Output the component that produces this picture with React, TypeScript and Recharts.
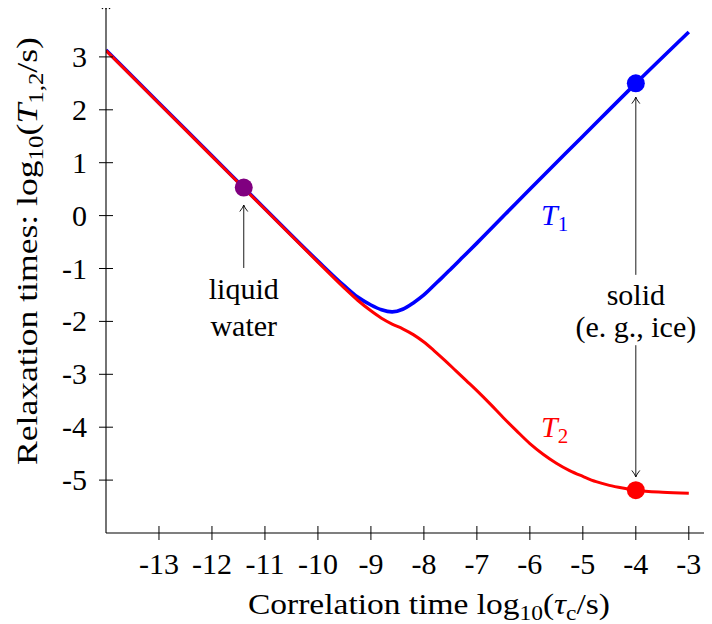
import React from 'react';
import { ComposedChart, Line, Scatter, XAxis, YAxis, ReferenceLine, Label } from 'recharts';

const FONT = 'Liberation Serif';
const SIZE = 30;
const SUB = 21;

const xTicks = [-13, -12, -11, -10, -9, -8, -7, -6, -5, -4, -3];
const yTicks = [-5, -4, -3, -2, -1, 0, 1, 2, 3];

// log10(T1) vs log10(tau_c)
const t1Points = [
  { x: -14, y: 3.13 },
  { x: -13, y: 2.13 },
  { x: -12, y: 1.13 },
  { x: -11, y: 0.13 },
  { x: -10, y: -0.86 },
  { x: -9.5, y: -1.33 },
  { x: -9.25, y: -1.54 },
  { x: -9, y: -1.69 },
  { x: -8.8, y: -1.78 },
  { x: -8.6, y: -1.82 },
  { x: -8.4, y: -1.77 },
  { x: -8.2, y: -1.65 },
  { x: -8, y: -1.5 },
  { x: -7.75, y: -1.26 },
  { x: -7.5, y: -1.02 },
  { x: -7.25, y: -0.77 },
  { x: -7, y: -0.52 },
  { x: -6, y: 0.5 },
  { x: -5, y: 1.5 },
  { x: -4, y: 2.5 },
  { x: -3, y: 3.47 },
];

// log10(T2)
const t2Points = [
  { x: -14, y: 3.12 },
  { x: -13, y: 2.12 },
  { x: -12, y: 1.12 },
  { x: -11, y: 0.12 },
  { x: -10, y: -0.88 },
  { x: -9.5, y: -1.37 },
  { x: -9.25, y: -1.6 },
  { x: -9, y: -1.8 },
  { x: -8.8, y: -1.94 },
  { x: -8.6, y: -2.05 },
  { x: -8.4, y: -2.14 },
  { x: -8.2, y: -2.25 },
  { x: -8, y: -2.39 },
  { x: -7.8, y: -2.56 },
  { x: -7.6, y: -2.74 },
  { x: -7.4, y: -2.93 },
  { x: -7.2, y: -3.12 },
  { x: -7, y: -3.31 },
  { x: -6.75, y: -3.56 },
  { x: -6.5, y: -3.82 },
  { x: -6.25, y: -4.07 },
  { x: -6, y: -4.31 },
  { x: -5.75, y: -4.51 },
  { x: -5.5, y: -4.68 },
  { x: -5.25, y: -4.82 },
  { x: -5, y: -4.93 },
  { x: -4.75, y: -5.03 },
  { x: -4.5, y: -5.1 },
  { x: -4.25, y: -5.15 },
  { x: -4, y: -5.19 },
  { x: -3.5, y: -5.23 },
  { x: -3, y: -5.25 },
];

const markers = [
  { x: -11.4, y: 0.53, color: '#800080' },
  { x: -4, y: 2.5, color: '#0000ff' },
  { x: -4, y: -5.19, color: '#ff0000' },
];

const arrows = [
  { x1: -11.4, y1: -0.99, x2: -11.4, y2: 0.2 },
  { x1: -4, y1: -1.12, x2: -4, y2: 2.24 },
  { x1: -4, y1: -2.45, x2: -4, y2: -4.94 },
];

const notes = [
  { x: -11.4, y: -1.58, lines: ['liquid', 'water'] },
  { x: -4, y: -1.69, lines: ['solid', '(e. g., ice)'] },
];
const noteGap = [37, 32];

const curveLabels = [
  { x: -5.79, y: -0.18, sub: '1', color: '#0000ff' },
  { x: -5.79, y: -4.19, sub: '2', color: '#ff0000' },
];

const headPath = (x: number, y: number, dx: number, dy: number) => {
  const len = 6.5;
  const half = 4;
  const bx = x - dx * len;
  const by = y - dy * len;
  const px = -dy;
  const py = dx;
  const mx = x - dx * 2.5;
  const my = y - dy * 2.5;
  return `M${bx + px * half},${by + py * half} Q${mx + px * 0.8},${my + py * 0.8} ${x},${y} Q${mx - px * 0.8},${my - py * 0.8} ${bx - px * half},${by - py * half}`;
};

const ArrowShape = (p: any) => {
  const { x1, y1, x2, y2 } = p;
  const l = Math.hypot(x2 - x1, y2 - y1) || 1;
  const dx = (x2 - x1) / l;
  const dy = (y2 - y1) / l;
  return (
    <g>
      <line x1={x1} y1={y1} x2={x2} y2={y2} stroke="#000" strokeWidth={0.9} />
      <path d={headPath(x2, y2, dx, dy)} fill="none" stroke="#000" strokeWidth={0.9} />
    </g>
  );
};

const AxisHead = (p: any) => {
  const { x1, y1, x2, y2 } = p;
  const l = Math.hypot(x2 - x1, y2 - y1) || 1;
  const dx = (x2 - x1) / l;
  const dy = (y2 - y1) / l;
  const tx = x2 + dx * 1.5;
  const ty = y2 + dy * 1.5;
  return (
    <g>
      <line x1={x1} y1={y1} x2={tx} y2={ty} stroke="#000" strokeWidth={1.1} />
      <path d={headPath(tx, ty, dx, dy)} fill="none" stroke="#000" strokeWidth={1.1} />
    </g>
  );
};

const XTick = (p: any) => {
  const { x, y, payload } = p;
  return (
    <g>
      <line x1={x} x2={x} y1={y - 7} y2={y + 7} stroke="#000" strokeWidth={1} />
      <text x={x} y={y + 41} textAnchor="middle" fontFamily={FONT} fontSize={SIZE}>
        {String(payload.value)}
      </text>
    </g>
  );
};

const YTick = (p: any) => {
  const { x, y, payload } = p;
  return (
    <g>
      <line x1={x - 7} x2={x + 7} y1={y} y2={y} stroke="#000" strokeWidth={1} />
      <text x={x - 19} y={y + 10} textAnchor="end" fontFamily={FONT} fontSize={SIZE}>
        {String(payload.value)}
      </text>
    </g>
  );
};

const XTitle = (p: any) => {
  const vb = p.viewBox || { x: 106, y: 533, width: 604, height: 91 };
  return (
    <text
      x={vb.x + 142}
      y={vb.y + 81}
      textLength={362}
      lengthAdjust="spacingAndGlyphs"
      fontFamily={FONT}
      fontSize={SIZE}
    >
      Correlation time log
      <tspan fontSize={SUB} dy={6}>10</tspan>
      <tspan dy={-6}>(</tspan>
      <tspan fontStyle="italic">τ</tspan>
      <tspan fontSize={SUB} dy={6}>c</tspan>
      <tspan dy={-6}>/s)</tspan>
    </text>
  );
};

const YTitle = () => {
  const bx = 37;
  const sy = 465;
  return (
    <text
      x={bx}
      y={sy}
      transform={`rotate(-90, ${bx}, ${sy})`}
      textLength={428}
      lengthAdjust="spacingAndGlyphs"
      fontFamily={FONT}
      fontSize={SIZE}
    >
      Relaxation times: log
      <tspan fontSize={SUB} dy={6}>10</tspan>
      <tspan dy={-6}>(</tspan>
      <tspan fontStyle="italic">T</tspan>
      <tspan fontSize={SUB} dy={6}>1,2</tspan>
      <tspan dy={-6}>/s)</tspan>
    </text>
  );
};

const Dot = (p: any) => <circle cx={p.cx} cy={p.cy} r={9} fill={p.payload.color} />;

const Note = (p: any) => {
  const gap = noteGap[p.index] ?? 35;
  return (
    <text x={p.cx} y={p.cy} textAnchor="middle" fontFamily={FONT} fontSize={SIZE}>
      {p.payload.lines.map((s: string, i: number) => (
        <tspan key={i} x={p.cx} dy={i === 0 ? 0 : gap}>
          {s}
        </tspan>
      ))}
    </text>
  );
};

const CurveLabel = (p: any) => (
  <text x={p.cx} y={p.cy} fontFamily={FONT} fontSize={SIZE} fill={p.payload.color}>
    <tspan fontStyle="italic">T</tspan>
    <tspan fontSize={SUB} dy={6}>{p.payload.sub}</tspan>
  </text>
);

const App = () => {
  return (
    <div style={{ marginLeft: -8, marginTop: -8 }}>
      <style>{`svg text, svg tspan { font-family: "Liberation Serif", "Times New Roman", serif !important; }`}</style>
      <svg width={1} height={1} style={{ position: 'absolute', left: 0, top: 0, overflow: 'hidden' }}>
        <text x={0} y={1} fontFamily={FONT} fontSize={1} fill="#fff">
          Aa
        </text>
      </svg>
      <ComposedChart width={712} height={624} margin={{ top: 4, right: 2, bottom: 0, left: 0 }}>
        <XAxis
          type="number"
          dataKey="x"
          domain={[-14, -2.6]}
          ticks={xTicks}
          interval={0}
          allowDataOverflow
          height={91}
          tickSize={0}
          tickMargin={0}
          tickLine={false}
          axisLine={{ stroke: '#000', strokeWidth: 1.1 }}
          tick={<XTick />}
        >
          <Label content={<XTitle />} />
        </XAxis>
        <YAxis
          type="number"
          dataKey="y"
          domain={[-6, 4]}
          ticks={yTicks}
          interval={0}
          allowDataOverflow
          width={106}
          tickSize={0}
          tickMargin={0}
          tickLine={false}
          axisLine={{ stroke: '#000', strokeWidth: 1.1 }}
          tick={<YTick />}
        >
          <Label content={<YTitle />} />
        </YAxis>
        <ReferenceLine segment={[{ x: -14, y: 3.9 }, { x: -14, y: 4 }]} shape={AxisHead} ifOverflow="visible" />
        <ReferenceLine segment={[{ x: -2.7, y: -6 }, { x: -2.6, y: -6 }]} shape={AxisHead} ifOverflow="visible" />
        {arrows.map((a, i) => (
          <ReferenceLine
            key={i}
            segment={[{ x: a.x1, y: a.y1 }, { x: a.x2, y: a.y2 }]}
            shape={ArrowShape}
            ifOverflow="visible"
          />
        ))}
        <Line
          data={t1Points}
          dataKey="y"
          type="monotone"
          stroke="#0000ff"
          strokeWidth={3.6}
          dot={false}
          isAnimationActive={false}
        />
        <Line
          data={t2Points}
          dataKey="y"
          type="monotone"
          stroke="#ff0000"
          strokeWidth={3}
          dot={false}
          isAnimationActive={false}
        />
        <Scatter data={markers} shape={Dot} isAnimationActive={false} />
        <Scatter data={notes} shape={Note} isAnimationActive={false} />
        <Scatter data={curveLabels} shape={CurveLabel} isAnimationActive={false} />
      </ComposedChart>
    </div>
  );
};

export default App;
